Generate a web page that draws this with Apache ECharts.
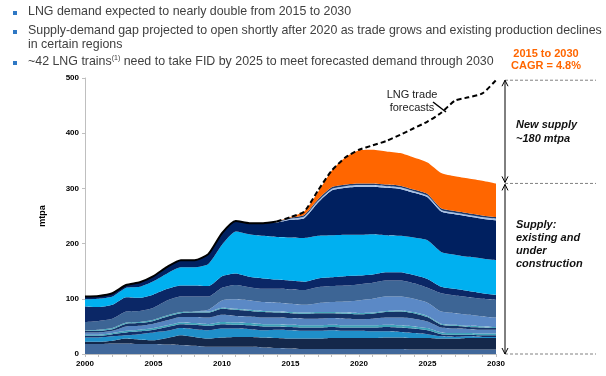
<!DOCTYPE html>
<html><head><meta charset="utf-8">
<script src="https://cdn.jsdelivr.net/npm/echarts@6/dist/echarts.min.js"></script>
<style>html,body{margin:0;padding:0;background:#fff}#c{width:606px;height:376px}</style>
</head><body><div id="c"></div>
<script>
const years = ['2000','2001','2002','2003','2004','2005','2006','2007','2008','2009','2010','2011','2012','2013','2014','2015','2016','2017','2018','2019','2020','2021','2022','2023','2024','2025','2026','2027','2028','2029','2030'];
const yTicks = [0, 100, 200, 300, 400, 500];

// stacked supply layers, bottom to top (mtpa)
const layer1  = [18,18,19,19,18,18,17,16,15,13,13,13,13,12,11,10,9,9,9,9,9,9,9,9,8,8,8,8,8,8,8];
const layer2  = [4,4,5,9,8,7,12,18,16,15,17,18,18,18,18,18,19,19,20,20,20,20,21,21,21,21,20,20,21,21,21];
const layer3  = [8,8,8,6,10,14,13,13,14,15,16,15,14,13,15,15,14,14,14,13,13,12,11,10,9,7,4,3,3,2,2];
const layer4  = [3,3,4,5,5,5,7,7,8,8,8,7,7,7,6,6,6,6,6,6,6,7,8,8,8,7,4,4,3,3,3];
const layer5  = [2,2,2,3,3,3,3,3,3,3,4,4,4,4,4,4,4,4,4,4,4,4,4,4,4,4,3,3,3,3,3];
const layer6  = [4,4,4,8,7,8,9,10,11,12,13,12,12,12,12,12,12,12,12,12,11,12,13,14,14,12,9,8,7,7,7];
const layer7  = [3,3,3,5,5,5,7,7,8,9,11,11,10,10,9,9,9,10,9,9,9,9,10,11,10,8,5,5,4,4,3];
const layer8  = [1,2,2,2,2,2,2,2,2,2,2,2,2,2,2,2,2,2,2,2,2,2,2,2,2,2,2,2,2,2,2];
const layer9  = [0,0,0,0,0,0,0,0,0,3,13,17,17,16,16,15,14,16,18,20,23,25,26,25,24,24,22,21,20,18,17];
const layer10 = [15,16,17,20,20,22,27,28,27,24,23,26,24,24,25,26,27,29,29,29,29,29,29,29,28,27,33,32,32,32,32];
const layer11 = [28,25,25,26,24,24,21,20,20,19,21,21,19,19,17,16,15,16,16,17,16,15,15,15,15,16,12,12,11,10,9];
const qatar   = [13,15,15,17,20,24,28,33,33,40,57,76,77,77,77,78,79,77,76,75,74,73,67,66,68,70,63,62,62,63,63];
const australia = [5,5,6,5,8,9,12,13,13,18,21,19,20,23,26,32,36,60,81,85,87,86,86,85,81,78,73,73,73,72,72];
const ausLight  = [0,0,0,0,0,0,0,0,0,0,0,0,0,0,1,2,3,3,3,3,3,3,3,3,3,3,3,3,3,3,3];
const ausTop    = [0,0,0,0,0,0,0,0,0,0,0,0,0,0,1,2,3,3,3,3,3,3,3,3,3,3,3,3,3,3,3];
const usa       = [0,0,0,0,0,0,0,0,0,0,0,0,0,0,0,1,6,13,30,49,60,61,60,59,58,57,64,63,63,63,61];

// LNG trade: history (solid) and forecasts (dashed)
const tradeHistory  = [104,105,110,125,130,141,158,170,170,181,219,241,237,237,240,'-','-','-','-','-','-','-','-','-','-','-','-','-','-','-','-'];
const tradeForecast = ['-','-','-','-','-','-','-','-','-','-','-','-','-','-',240,248,258,296,332,356,370,378,386,397,409,421,437,459,465,472,496];

const layers = [
  [layer1,'#41689b'],[layer2,'#14284b'],[layer3,'#1f8fc9'],[layer4,'#12306a'],
  [layer5,'#3ea3b8'],[layer6,'#5685c0'],[layer7,'#163468'],[layer8,'#48a7b9'],
  [layer9,'#5b89c6'],[layer10,'#3d6595'],[layer11,'#0b2766'],[qatar,'#00b0f0'],
  [australia,'#002060'],[ausLight,'#a6c2e8'],[ausTop,'#1b3a6e'],[usa,'#ff6600']
];

const chart = echarts.init(document.getElementById('c'), null, {renderer:'canvas'});
const FONT = '"Liberation Sans", Arial, sans-serif';
const SM = 0.2;

const series = layers.map(([d,c],i)=>({
  type:'line', stack:'supply', data:d, symbol:'none', silent:true, smooth:SM,
  lineStyle:{width:0}, areaStyle:{color:c, opacity:1}, itemStyle:{color:c},
  emphasis:{disabled:true}, z:2
}));
series.push({type:'line', data:tradeHistory, symbol:'none', silent:true, smooth:SM,
  lineStyle:{color:'#000', width:2}, z:5});
series.push({type:'line', data:tradeForecast, symbol:'none', silent:true, smooth:SM,
  lineStyle:{color:'#000', width:2, type:[5,3]}, z:5});

chart.setOption({
  animation:false,
  grid:{left:85, right:110, top:78, bottom:22, containLabel:false},
  xAxis:{type:'category', data:years, boundaryGap:false,
    axisLine:{lineStyle:{color:'#bfbfbf'}},
    axisTick:{show:true, interval:0, length:3, lineStyle:{color:'#bfbfbf'}},
    axisLabel:{interval:4, color:'#000', fontWeight:'bold', fontSize:8, fontFamily:FONT, margin:6},
    splitLine:{show:false}},
  yAxis:{type:'value', min:yTicks[0], max:yTicks[yTicks.length-1], interval:100,
    name:'mtpa', nameLocation:'middle', nameGap:38, nameRotate:90,
    nameTextStyle:{color:'#000', fontWeight:'bold', fontSize:9, fontFamily:FONT},
    axisLine:{show:true, lineStyle:{color:'#bfbfbf'}},
    axisTick:{show:true, length:3, lineStyle:{color:'#bfbfbf'}},
    axisLabel:{color:'#000', fontWeight:'bold', fontSize:8, fontFamily:FONT, margin:6},
    splitLine:{show:false}},
  series
});

const yPix = v => chart.convertToPixel({yAxisIndex:0}, v);
const supplyTop2030 = layers.reduce((s,[d])=>s+d[30],0);
const yTop = yPix(tradeForecast[30]);
const yMid = yPix(supplyTop2030);
const yBot = yPix(0);
const ax = 505;

function arrow(y1,y2){
  return [
    {type:'line', shape:{x1:ax,y1:y1,x2:ax,y2:y2}, style:{stroke:'#000', lineWidth:1}},
    {type:'polyline', shape:{points:[[ax-3,y1+6],[ax,y1],[ax+3,y1+6]]}, style:{stroke:'#000', lineWidth:1, fill:null}},
    {type:'polyline', shape:{points:[[ax-3,y2-6],[ax,y2],[ax+3,y2-6]]}, style:{stroke:'#000', lineWidth:1, fill:null}}
  ];
}
function hdash(y){
  return {type:'line', shape:{x1:ax,y1:y,x2:596,y2:y}, style:{stroke:'#808080', lineWidth:1, lineDash:[3,2]}};
}
const TF = '12.4px '+FONT;
const bulletText = (txt,y)=>({type:'text', left:28, top:y-7, style:{text:txt, fill:'#404040', font:TF}});
const bullet = y=>({type:'rect', shape:{x:13,y:y-2,width:4,height:4}, style:{fill:'#2f78c4'}});
const note = (txt,x,y,opts)=>({type:'text', x:x, y:y, style:Object.assign({text:txt, textAlign:'left', textVerticalAlign:'middle', fill:'#111', font:'italic bold 11px '+FONT}, opts||{})});

chart.setOption({graphic:[
  bullet(13), bulletText('LNG demand expected to nearly double from 2015 to 2030',13),
  bullet(32), bulletText('Supply-demand gap projected to open shortly after 2020 as trade grows and existing production declines',32),
  bulletText('in certain regions',46),
  bullet(63),
  {type:'text', left:28, top:55, style:{text:'~42 LNG trains{s|(1)} need to take FID by 2025 to meet forecasted demand through 2030', fill:'#404040', font:TF,
    rich:{s:{fontSize:7, fontFamily:FONT, fill:'#404040', verticalAlign:'top', padding:[0,0,6,0]}}}},
  {type:'text', x:546, y:54, style:{text:'2015 to 2030', textAlign:'center', textVerticalAlign:'middle', fill:'#ff6600', font:'bold 11px '+FONT}},
  {type:'text', x:546, y:66, style:{text:'CAGR = 4.8%', textAlign:'center', textVerticalAlign:'middle', fill:'#ff6600', font:'bold 11px '+FONT}},
  hdash(yTop), hdash(yMid), hdash(yBot),
  ...arrow(yTop, yMid-1), ...arrow(yMid+1, yBot),
  note('New supply',516,125), note('~180 mtpa',516,139),
  note('Supply:',516,225), note('existing and',516,238), note('under',516,251), note('construction',516,264),
  {type:'text', x:412, y:95, style:{text:'LNG trade', textAlign:'center', textVerticalAlign:'middle', fill:'#222', font:'11px '+FONT}},
  {type:'text', x:412, y:108, style:{text:'forecasts', textAlign:'center', textVerticalAlign:'middle', fill:'#222', font:'11px '+FONT}},
  {type:'line', shape:{x1:433,y1:102,x2:446,y2:112}, style:{stroke:'#000', lineWidth:1.5}},
  {type:'text', x:415, y:176, style:{text:'USA', textAlign:'center', textVerticalAlign:'middle', fill:'#000', font:'bold 12px '+FONT}},
  {type:'text', x:401, y:216, style:{text:'Australia', textAlign:'center', textVerticalAlign:'middle', fill:'#fff', font:'bold 12px '+FONT}},
  {type:'text', x:366, y:252, style:{text:'Qatar', textAlign:'center', textVerticalAlign:'middle', fill:'#fff', font:'bold 12px '+FONT}}
]});
</script></body></html>
